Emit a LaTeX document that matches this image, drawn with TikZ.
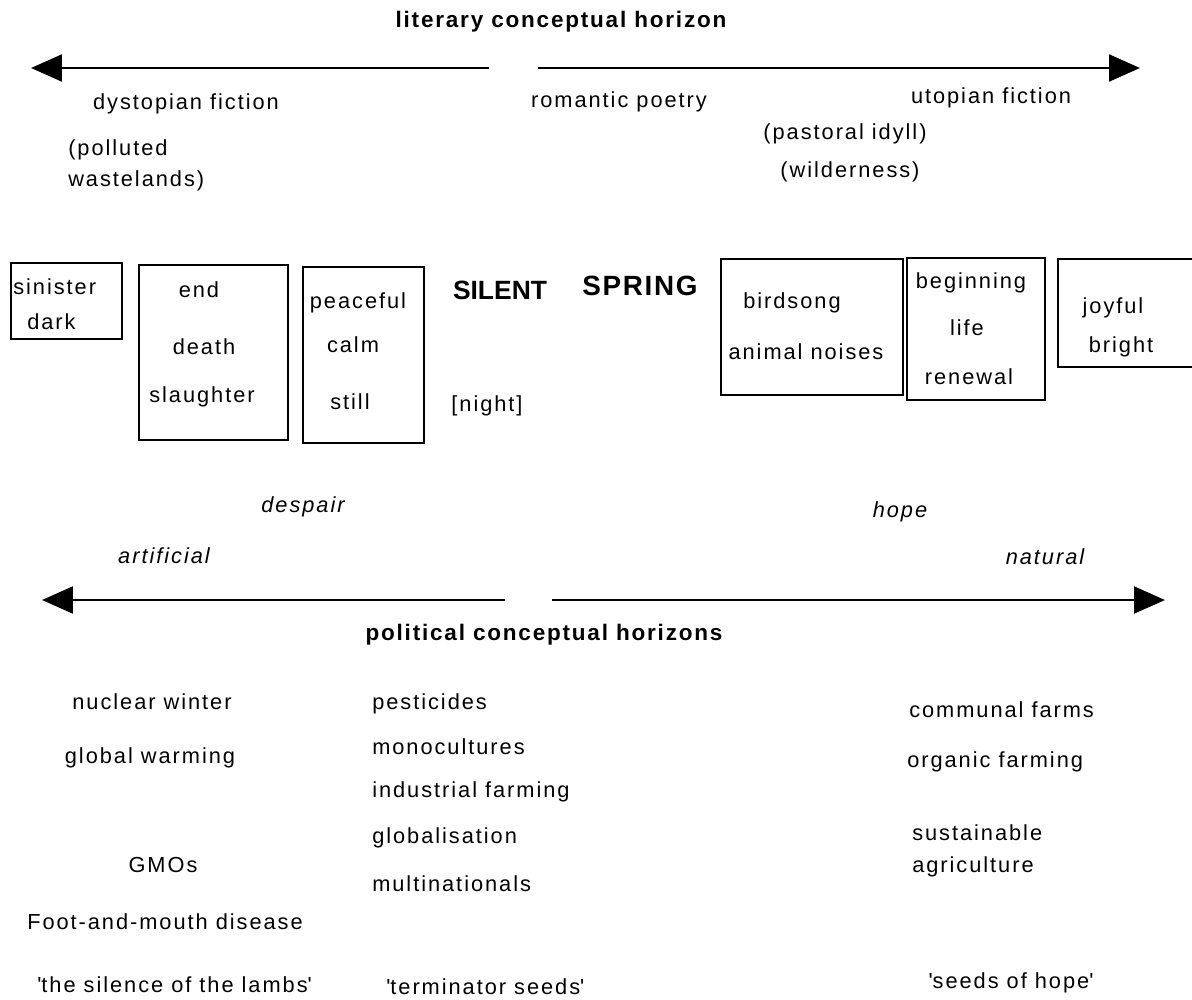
\documentclass[tikz,border=0pt]{standalone}
\usepackage{fontspec}
\setmainfont{Liberation Sans}[LetterSpace=9]
\newfontfamily\horizonfont{Liberation Sans}[LetterSpace=8]
\newfontfamily\springfont{Liberation Sans}[LetterSpace=6]
\newfontfamily\silentfont{Liberation Sans}
\usetikzlibrary{arrows.meta}
\colorlet{ink}{black}
\tikzset{
  horizon/.style={-{Triangle[length=22pt,width=19pt]}, draw=ink, line width=2.1pt},
  wordbox/.style 2 args={
    draw=ink,
    rectangle,
    line width=1.9pt,
    inner sep=0pt,
    minimum width=#1*0.025cm,
    minimum height=#2*0.025cm
  },
  word/.style={inner sep=0pt, text=ink, font=\fontsize{15.5}{18}\selectfont},
  mood/.style={inner sep=0pt, text=ink, font=\fontsize{15.5}{18}\selectfont\itshape},
  horizon title/.style={inner sep=0pt, text=ink, font=\fontsize{16}{19}\selectfont\horizonfont\bfseries},
  season/.style={inner sep=0pt, text=ink}
}

\begin{document}
\begin{tikzpicture}[x=0.025cm,y=-0.025cm]
  \useasboundingbox (0,0) rectangle (1192,1000);

  \node[horizon title] (littitle) at (561,22) {literary conceptual horizon};
  \coordinate (litmidL) at (489,68);
  \coordinate (litmidR) at (538,68);
  \coordinate (litendL) at (31,68);
  \coordinate (litendR) at (1140,68);
  \draw[horizon] (litmidL) -- (litendL);
  \draw[horizon] (litmidR) -- (litendR);

  \node[word] (dystopian) at (186,104) {dystopian fiction};
  \node[word, anchor=west] (polluted) at (68,150) {(polluted};
  \node[word, anchor=west] (wastelands) at (68,181) {wastelands)};
  \node[word] (romantic) at (619,102) {romantic poetry};
  \node[word] (utopian) at (991,98) {utopian fiction};
  \node[word] (pastoral) at (845,134) {(pastoral idyll)};
  \node[word] (wilderness) at (850,172) {(wilderness)};

  \node[wordbox={111}{76}] (sinbox) at (66.5,301) {};
  \node[word, anchor=west] (sinister) at (13,287) {sinister};
  \node[word] (dark) at (51.5,322) {dark};

  \node[wordbox={149}{175}] (endbox) at (213.5,352.5) {};
  \node[word] (end) at (199,290) {end};
  \node[word] (death) at (204,347) {death};
  \node[word] (slaughter) at (202,397) {slaughter};

  \node[wordbox={121}{176}] (calmbox) at (363.5,355) {};
  \node[word] (peaceful) at (358,303) {peaceful};
  \node[word] (calm) at (353,345) {calm};
  \node[word] (still) at (350,402) {still};

  \node[season, font=\fontsize{18.8}{22}\selectfont\silentfont\bfseries] (silent) at (500,290) {SILENT};
  \node[season, font=\fontsize{19.8}{23}\selectfont\springfont\bfseries] (spring) at (640,286) {SPRING};
  \node[word] (night) at (487,406) {[night]};

  \node[wordbox={182}{136}] (birdbox) at (812,327) {};
  \node[word] (birdsong) at (792,303) {birdsong};
  \node[word] (noises) at (806,352) {animal noises};

  \node[wordbox={138}{142}] (lifebox) at (976,329) {};
  \node[word] (beginning) at (971,283) {beginning};
  \node[word] (life) at (967,328) {life};
  \node[word] (renewal) at (969,377) {renewal};

  \node[wordbox={142}{108}] (joybox) at (1129,313) {};
  \node[word] (joyful) at (1113,308) {joyful};
  \node[word] (bright) at (1121,347) {bright};

  \node[mood] (despair) at (303,507) {despair};
  \node[mood] (hope) at (900,512) {hope};
  \node[mood] (artificial) at (164,556) {artificial};
  \node[mood] (natural) at (1045,557) {natural};

  \coordinate (polmidL) at (505,600);
  \coordinate (polmidR) at (552,600);
  \coordinate (polendL) at (42,600);
  \coordinate (polendR) at (1165,600);
  \draw[horizon] (polmidL) -- (polendL);
  \draw[horizon] (polmidR) -- (polendR);
  \node[horizon title] (poltitle) at (544,635) {political conceptual horizons};

  \node[word] (nuclear) at (152,702) {nuclear winter};
  \node[word] (warming) at (150,758) {global warming};
  \node[word] (gmos) at (163,865) {GMOs};
  \node[word] (footmouth) at (165,922) {Foot-and-mouth disease};
  \node[word, anchor=west] (lambs) at (37,985) {\textquotesingle the silence of the lambs\textquotesingle};

  \node[word, anchor=west] (pesticides) at (372,704) {pesticides};
  \node[word, anchor=west] (monocultures) at (372,747) {monocultures};
  \node[word, anchor=west] (industrial) at (372,792) {industrial farming};
  \node[word, anchor=west] (globalisation) at (372,838) {globalisation};
  \node[word, anchor=west] (multinationals) at (372,884) {multinationals};
  \node[word, anchor=west] (terminator) at (386,987) {\textquotesingle terminator seeds\textquotesingle};

  \node[word, anchor=west] (communal) at (909,710) {communal farms};
  \node[word, anchor=west] (organic) at (907,762) {organic farming};
  \node[word, anchor=west] (sustainable) at (912,833) {sustainable};
  \node[word, anchor=west] (agriculture) at (912,867) {agriculture};
  \node[word] (seedshope) at (1011,983) {\textquotesingle seeds of hope\textquotesingle};
\end{tikzpicture}
\end{document}
